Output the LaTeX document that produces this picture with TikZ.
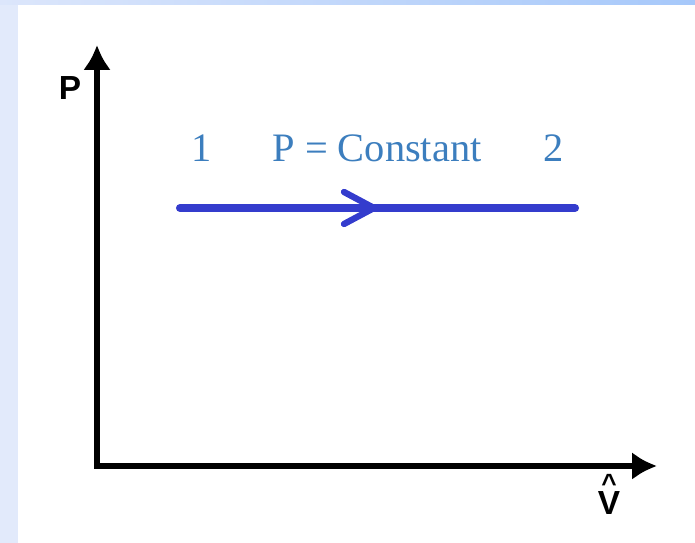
\documentclass[tikz,border=0pt]{standalone}
\usepackage{fontspec}
\setmainfont{Liberation Serif}
\setsansfont{Liberation Sans}
\usepackage{tikz}
\usetikzlibrary{arrows.meta}
\usepackage{xcolor}
\definecolor{pagebg}{RGB}{226,234,251}
\definecolor{barleft}{RGB}{220,230,251}
\definecolor{barright}{RGB}{166,200,250}
\definecolor{procblue}{RGB}{52,60,205}
\definecolor{labelblue}{RGB}{60,126,190}

\tikzset{
  axis/.style={line width=2.9pt,-{Latex[length=0.5cm,width=0.56cm]}},
  process/.style={line width=4.6pt,procblue,line cap=round},
  chevron/.style={line width=3.6pt,procblue,line cap=round,line join=miter},
  axislabel/.style={font=\sffamily\bfseries\fontsize{19}{22}\selectfont,anchor=base,inner sep=0pt},
  statelabel/.style={text=labelblue,font=\fontsize{23}{27}\selectfont}
}

\begin{document}
\begin{tikzpicture}[x=0.02cm,y=0.02cm]
  \path[use as bounding box] (0,0) rectangle (695,543);
  % frame of the slide
  \fill[pagebg] (0,0) rectangle (18,543);
  \shade[left color=barleft,right color=barright] (0,538) rectangle (695,543);
  % axes
  \coordinate (O) at (97,77);
  \coordinate (Ptip) at (97,498);
  \coordinate (Vtip) at (657,77);
  \draw[axis] (O) -- (Ptip);
  \draw[axis] ([xshift=-1.45pt]O) -- (Vtip);
  \node[axislabel] (plabel) at (70,443) {P};
  \node[axislabel] (vlabel) at (609,28)
    {V\llap{\makebox[0.667em][c]{\raisebox{13pt}{\fontsize{15}{15}\selectfont\textasciicircum}}}};
  % constant pressure process 1 -> 2
  \coordinate (s1) at (180,335);
  \coordinate (s2) at (575,335);
  \coordinate (mid) at (374,335);
  \draw[process] (s1) -- (s2);
  \draw[chevron] ([shift={(-30,16)}]mid) -- (mid) -- ([shift={(-30,-16)}]mid);
  \node[statelabel] (st1) at (202,395) {1};
  \node[statelabel] (pc) at (377,395) {P = Constant};
  \node[statelabel] (st2) at (554,395) {2};
\end{tikzpicture}
\end{document}
